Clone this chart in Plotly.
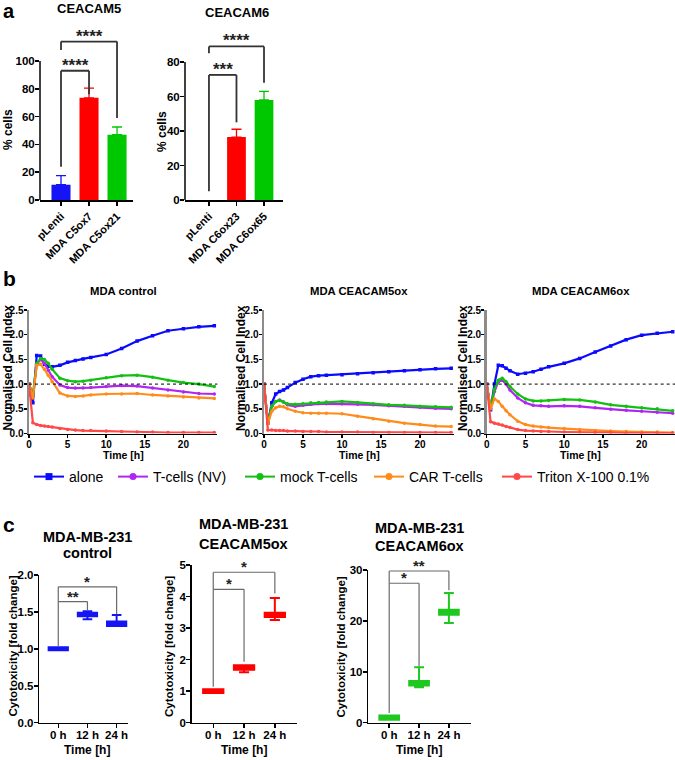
import plotly.graph_objects as go

W, H = 675, 760
FONT = "Arial, Liberation Sans, Helvetica, sans-serif"

# ---------------- panel a : % positive cells ----------------
a5_categories = ["pLenti", "MDA C5ox7", "MDA C5ox21"]
a5_mean = [11.0, 73.5, 47.0]
a5_sd = [6.5, 7.0, 5.5]
a6_categories = ["pLenti", "MDA C6ox23", "MDA C6ox65"]
a6_mean = [0.0, 36.5, 58.0]
a6_sd = [0.0, 4.5, 5.0]
a_colors = ["#1414f5", "#ff0000", "#00c800"]

# ---------------- panel b : normalised cell index ----------------
time_h = [0, 0.5, 1, 1.5, 2, 2.5, 3, 4, 5, 6, 7, 8, 10, 12, 14, 16, 18, 20, 22, 24]
ctrl_alone  = [1.00, 0.62, 1.58, 1.57, 1.40, 1.36, 1.35, 1.38, 1.44, 1.48, 1.51, 1.54, 1.60, 1.72, 1.87, 1.98, 2.08, 2.12, 2.16, 2.18]
ctrl_nv     = [1.00, 0.75, 1.40, 1.50, 1.42, 1.28, 1.15, 0.98, 0.93, 0.92, 0.92, 0.93, 0.95, 0.97, 0.96, 0.92, 0.88, 0.84, 0.81, 0.80]
ctrl_mock   = [1.00, 0.78, 1.42, 1.52, 1.50, 1.42, 1.30, 1.12, 1.07, 1.05, 1.06, 1.08, 1.13, 1.17, 1.18, 1.14, 1.08, 1.03, 1.00, 0.95]
ctrl_car    = [1.00, 0.72, 1.38, 1.40, 1.30, 1.18, 1.05, 0.82, 0.76, 0.75, 0.76, 0.78, 0.80, 0.80, 0.81, 0.78, 0.76, 0.74, 0.72, 0.71]
ctrl_triton = [1.00, 0.22, 0.18, 0.16, 0.15, 0.14, 0.13, 0.10, 0.08, 0.07, 0.06, 0.06, 0.05, 0.04, 0.03, 0.03, 0.02, 0.02, 0.02, 0.02]

c5_alone  = [1.00, 0.22, 0.62, 0.80, 0.85, 0.88, 0.93, 1.03, 1.10, 1.15, 1.17, 1.18, 1.19, 1.21, 1.23, 1.25, 1.27, 1.29, 1.31, 1.32]
c5_nv     = [1.00, 0.20, 0.55, 0.65, 0.68, 0.64, 0.58, 0.55, 0.57, 0.59, 0.60, 0.60, 0.60, 0.59, 0.58, 0.56, 0.55, 0.53, 0.51, 0.50]
c5_mock   = [1.00, 0.20, 0.55, 0.65, 0.67, 0.64, 0.60, 0.59, 0.60, 0.62, 0.63, 0.64, 0.65, 0.63, 0.60, 0.58, 0.57, 0.55, 0.54, 0.53]
c5_car    = [1.00, 0.20, 0.45, 0.52, 0.55, 0.54, 0.50, 0.45, 0.42, 0.41, 0.41, 0.41, 0.40, 0.35, 0.30, 0.25, 0.21, 0.18, 0.15, 0.14]
c5_triton = [1.00, 0.07, 0.07, 0.06, 0.06, 0.06, 0.05, 0.05, 0.04, 0.04, 0.04, 0.03, 0.03, 0.03, 0.02, 0.02, 0.02, 0.02, 0.02, 0.02]

c6_alone  = [1.00, 0.48, 1.00, 1.38, 1.37, 1.32, 1.27, 1.20, 1.22, 1.25, 1.30, 1.35, 1.42, 1.52, 1.65, 1.77, 1.90, 1.99, 2.03, 2.06]
c6_nv     = [1.00, 0.50, 0.85, 1.05, 1.08, 1.00, 0.88, 0.72, 0.62, 0.57, 0.56, 0.55, 0.56, 0.55, 0.52, 0.49, 0.47, 0.45, 0.43, 0.41]
c6_mock   = [1.00, 0.52, 0.90, 1.08, 1.12, 1.05, 0.95, 0.80, 0.70, 0.66, 0.66, 0.67, 0.69, 0.68, 0.64, 0.58, 0.55, 0.52, 0.50, 0.46]
c6_car    = [1.00, 0.50, 0.70, 0.65, 0.55, 0.46, 0.38, 0.25, 0.18, 0.15, 0.13, 0.12, 0.10, 0.08, 0.06, 0.05, 0.04, 0.03, 0.03, 0.02]
c6_triton = [1.00, 0.24, 0.21, 0.19, 0.17, 0.14, 0.12, 0.08, 0.06, 0.05, 0.04, 0.04, 0.03, 0.03, 0.02, 0.02, 0.01, 0.01, 0.01, 0.01]

b_series_names = ["alone", "T-cells (NV)", "mock T-cells", "CAR T-cells", "Triton X-100 0.1%"]
b_colors = ["#0a0aff", "#b026f0", "#12c012", "#ff8c1a", "#ff4848"]
b_symbols = ["square", "circle", "circle", "circle", "circle"]
b_titles = ["MDA control", "MDA CEACAM5ox", "MDA CEACAM6ox"]
b_data = [
    [ctrl_alone, ctrl_nv, ctrl_mock, ctrl_car, ctrl_triton],
    [c5_alone, c5_nv, c5_mock, c5_car, c5_triton],
    [c6_alone, c6_nv, c6_mock, c6_car, c6_triton],
]

# ---------------- panel c : cytotoxicity (box: min, q1, median, q3, max) ----------------
c_categories = ["0 h", "12 h", "24 h"]
cc_min = [0.98, 1.40, 1.31]
cc_q1  = [0.98, 1.44, 1.31]
cc_med = [1.00, 1.46, 1.34]
cc_q3  = [1.02, 1.49, 1.37]
cc_max = [1.02, 1.51, 1.46]

c5c_min = [0.94, 1.60, 3.26]
c5c_q1  = [0.94, 1.68, 3.35]
c5c_med = [1.00, 1.76, 3.42]
c5c_q3  = [1.06, 1.82, 3.49]
c5c_max = [1.06, 1.82, 3.95]

c6c_min = [0.6, 6.95, 19.6]
c6c_q1  = [0.6, 7.3, 21.2]
c6c_med = [1.0, 7.7, 21.7]
c6c_q3  = [1.4, 8.2, 22.2]
c6c_max = [1.4, 10.9, 25.5]

c_titles = [("MDA-MB-231", "control"), ("MDA-MB-231", "CEACAM5ox"), ("MDA-MB-231", "CEACAM6ox")]
c_colors = ["#1414f5", "#ff0000", "#1ec81e"]

# significance brackets: (left-leg bottom, top, right-leg bottom, x0, x1, label)
a5_brackets = [(24, 93, 76, 0, 1, "****"), (108, 114, 59, 0, 2, "****")]
a6_brackets = [(5, 72.5, 45, 0, 1, "***"), (85, 89, 68, 0, 2, "****")]
cc_brackets = [(1.04, 1.64, 1.52, 0, 1, "**"), (1.64, 1.84, 1.47, 0, 2, "*")]
c5c_brackets = [(1.14, 4.23, 1.93, 0, 1, "*"), (4.23, 4.77, 4.10, 0, 2, "*")]
c6c_brackets = [(1.9, 27.4, 11.1, 0, 1, "*"), (27.4, 29.8, 26.0, 0, 2, "**")]


def bold(size, color="black"):
    return dict(family=FONT, size=size, color=color, weight="bold")


def base_axis(**kw):
    d = dict(showline=True, linecolor="black", linewidth=1.5, ticks="outside",
             ticklen=4, tickwidth=1.5, tickcolor="black", showgrid=False,
             zeroline=False, fixedrange=True, automargin=False)
    d.update(kw)
    return d


layout = dict(width=W, height=H, autosize=False,
              margin=dict(l=0, r=0, t=0, b=0, pad=0, autoexpand=False),
              paper_bgcolor="white", plot_bgcolor="white", hovermode=False,
              font=dict(family=FONT, color="black"))
shapes, annotations, traces = [], [], []


def sfx(n):
    return "" if n == 1 else str(n)


def add_axes(n, xpx, ypx, xrange, yrange, xkw, ykw):
    layout["xaxis" + sfx(n)] = base_axis(domain=[xpx[0] / W, xpx[1] / W], range=xrange,
                                         anchor="y" + sfx(n), **xkw)
    layout["yaxis" + sfx(n)] = base_axis(domain=[1 - ypx[1] / H, 1 - ypx[0] / H], range=yrange,
                                         anchor="x" + sfx(n), **ykw)


def text(t, xpx, ypx, size, angle=0, xanchor="center"):
    annotations.append(dict(text=t, x=xpx / W, y=1 - ypx / H, xref="paper", yref="paper",
                            showarrow=False, textangle=angle, xanchor=xanchor, yanchor="middle",
                            font=bold(size)))


def brackets(n, specs, color, width, star_size, yshift):
    xr, yr = "x" + sfx(n), "y" + sfx(n)
    for yl, yt, yrb, x0, x1, lab in specs:
        for (ax, ay, bx, by) in [(x0, yl, x0, yt), (x0, yt, x1, yt), (x1, yt, x1, yrb)]:
            shapes.append(dict(type="line", xref=xr, yref=yr, x0=ax, y0=ay, x1=bx, y1=by,
                               line=dict(color=color, width=width)))
        annotations.append(dict(text=lab, x=(x0 + x1) / 2, y=yt, xref=xr, yref=yr,
                                showarrow=False, yanchor="bottom", yshift=yshift,
                                font=bold(star_size, "#222222")))


# ======== panel a ========
a_specs = [
    (1, (40, 133), (33.2, 200), [-0.75, 2.57], [0, 120], [0, 20, 40, 60, 80, 100],
     a5_categories, a5_mean, a5_sd, a5_brackets),
    (2, (185, 283), (36.1, 200), [-0.87, 2.69], [0, 95], [0, 20, 40, 60, 80],
     a6_categories, a6_mean, a6_sd, a6_brackets),
]
for n, xpx, ypx, xr, yr, tv, cats, means, sds, brs in a_specs:
    add_axes(n, xpx, ypx, xr, yr,
             dict(type="category", tickangle=-45, tickfont=bold(11)),
             dict(tickvals=tv, showline=False, tickfont=bold(11.5), ticklabelstandoff=-2))
    shapes.append(dict(type="line", xref="paper", yref="y" + sfx(n), x0=xpx[0] / W, x1=xpx[0] / W,
                       y0=0, y1=tv[-1], line=dict(color="black", width=1.5)))
    for i in range(3):
        traces.append(go.Bar(x=[cats[i]], y=[means[i]], width=0.68, marker_color=a_colors[i],
                             marker_line_width=0, showlegend=False,
                             xaxis="x" + sfx(n), yaxis="y" + sfx(n),
                             error_y=dict(type="data", symmetric=False, array=[sds[i]],
                                          arrayminus=[0], color=a_colors[i], thickness=1.3,
                                          width=5, visible=sds[i] > 0)))
    brackets(n, brs, "#333333", 1.8, 17, -6)

text("a", 1, 11, 20, xanchor="left")
text("CEACAM5", 89, 8, 13)
text("CEACAM6", 237, 13, 13)
text("% cells", 8, 130, 12, angle=-90)
text("% cells", 162, 132, 12, angle=-90)

# ======== panel b ========
b_specs = [(3, (29, 217.4), [0, 24.4]), (4, (264, 454.3), [0, 24.4]), (5, (486.7, 675), [0, 24.3])]
b_ypx = (310, 433.5)
for k, (n, xpx, xr) in enumerate(b_specs):
    add_axes(n, xpx, b_ypx, xr, [0, 2.5],
             dict(tickvals=[0, 5, 10, 15, 20], tickfont=bold(10), ticklen=3, ticklabelstandoff=-2),
             dict(tickvals=[0, 0.5, 1.0, 1.5, 2.0, 2.5], tickformat=".1f", tickfont=bold(10),
                  ticklen=3, ticklabelstandoff=-2, linecolor="#8c8c8c", linewidth=2.5))
    shapes.append(dict(type="line", xref="x" + sfx(n) + " domain", yref="y" + sfx(n),
                       x0=0, x1=1, y0=1, y1=1, line=dict(color="black", width=1, dash="dot")))
    for j in range(5):
        traces.append(go.Scatter(x=time_h, y=b_data[k][j], mode="lines+markers",
                                 line=dict(color=b_colors[j], width=2.2),
                                 marker=dict(symbol=b_symbols[j], size=3.5, color=b_colors[j]),
                                 showlegend=False, xaxis="x" + sfx(n), yaxis="y" + sfx(n)))
    cx = (xpx[0] + xpx[1]) / 2
    text(b_titles[k], cx, 291, 11.3)
    text("Time [h]", cx, 455, 10.5)

for xpx in (7.5, 241, 463):
    text("Normalised Cell Index", xpx, 368, 12, angle=-90)
text("b", 1, 278, 21, xanchor="left")

# one small legend per entry so that each sits where the reference puts it
legend_text_x = [69, 153, 280, 409, 537]
for j in range(5):
    lname = "legend" if j == 0 else f"legend{j + 1}"
    traces.append(go.Scatter(x=[None], y=[None], mode="lines+markers", name=b_series_names[j],
                             line=dict(color=b_colors[j], width=2),
                             marker=dict(symbol=b_symbols[j], size=7, color=b_colors[j]),
                             xaxis="x3", yaxis="y3", showlegend=True, legend=lname))
    layout[lname] = dict(orientation="h", x=(legend_text_x[j] - 40) / W, y=1 - 477 / H,
                         xanchor="left", yanchor="middle",
                         font=dict(family=FONT, size=14, color="black"), bgcolor="rgba(0,0,0,0)",
                         itemclick=False, itemdoubleclick=False)
layout["showlegend"] = True

# ======== panel c ========
c_specs = [
    (6, (39.3, 128), (575, 722.7), [-0.65, 2.39], [0, 2], [0, 0.5, 1.0, 1.5, 2.0], ".1f",
     (cc_min, cc_q1, cc_med, cc_q3, cc_max), cc_brackets),
    (7, (191.7, 296.7), (565, 722.7), [-0.7, 2.71], [0, 5], [0, 1, 2, 3, 4, 5], "d",
     (c5c_min, c5c_q1, c5c_med, c5c_q3, c5c_max), c5c_brackets),
    (8, (368.3, 470.7), (570, 722.7), [-0.7, 2.73], [0, 30], [0, 10, 20, 30], "d",
     (c6c_min, c6c_q1, c6c_med, c6c_q3, c6c_max), c6c_brackets),
]
for k, (n, xpx, ypx, xr, yr, tv, fmt, stats, brs) in enumerate(c_specs):
    add_axes(n, xpx, ypx, xr, yr,
             dict(type="category", tickfont=bold(11.5), ticklabelstandoff=-3),
             dict(tickvals=tv, tickformat=fmt, tickfont=bold(11.5), ticklabelstandoff=-2))
    mn, q1, md, q3, mx = stats
    traces.append(go.Box(x=c_categories, q1=q1, median=md, q3=q3, lowerfence=mn, upperfence=mx,
                         width=0.66, whiskerwidth=0.5, boxpoints=False,
                         line=dict(color=c_colors[k], width=2), fillcolor=c_colors[k],
                         showlegend=False, xaxis="x" + sfx(n), yaxis="y" + sfx(n)))
    brackets(n, brs, "#6a6a6a", 1.2, 15, -5)
    annotations.append(dict(text="Time [h]", x=1, y=1 - 750 / H, xref="x" + sfx(n), yref="paper",
                            showarrow=False, yanchor="middle", font=bold(12)))

text("c", 1, 524, 21, xanchor="left")
title_pos = [(87, 536.5, 552.5), (243, 524, 544), (419, 527.5, 546)]
for (l1, l2), (cx, y1, y2) in zip(c_titles, title_pos):
    text(l1, cx, y1, 14.5)
    text(l2, cx, y2, 14.5)
for xpx in (12, 168.5, 340):
    text("Cytotoxicity [fold change]", xpx, 646.5, 11.5, angle=-90)

layout["shapes"] = shapes
layout["annotations"] = annotations
layout["bargap"] = 0.3

fig = go.Figure(data=traces, layout=layout)
fig.write_html("out.html", config={"displayModeBar": False, "staticPlot": True},
               post_script="document.body.style.margin='0px';document.body.style.padding='0px';")
